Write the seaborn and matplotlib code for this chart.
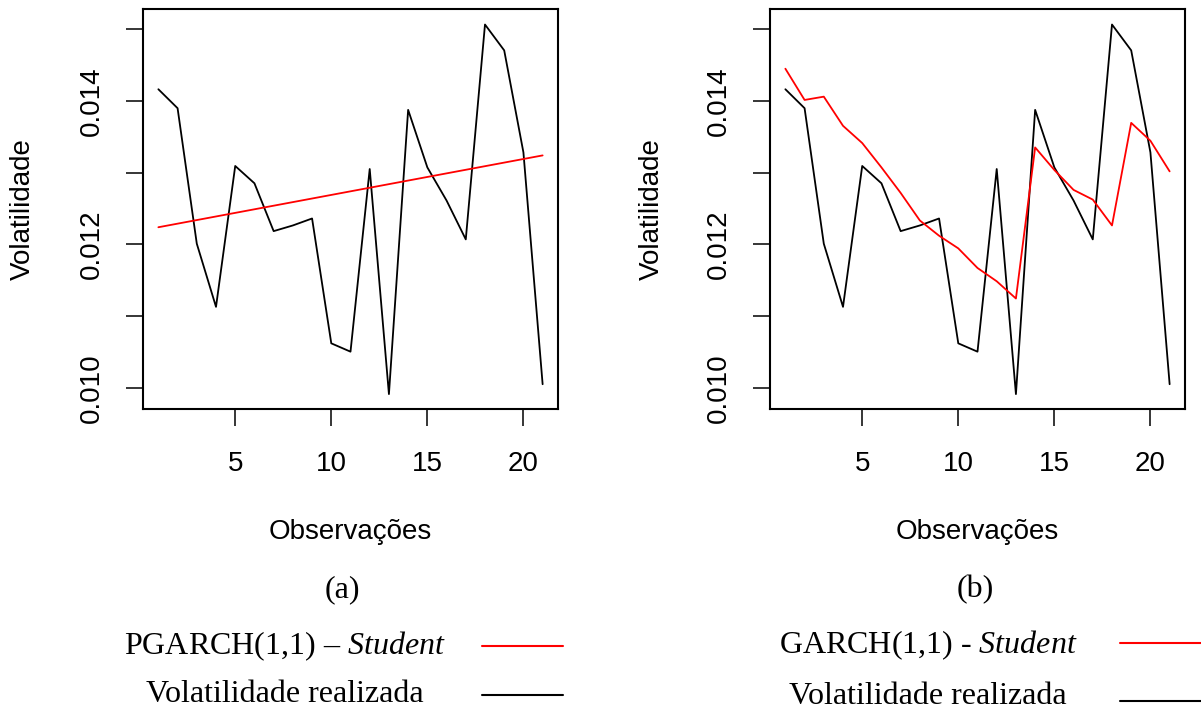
import numpy as np
import pandas as pd
import matplotlib
matplotlib.use("Agg")
import matplotlib.pyplot as plt
from matplotlib.lines import Line2D
import seaborn as sns

# Observation index
obs = list(range(1, 22))

# Realized volatility (same series in both panels)
realized = [0.014161, 0.013897, 0.012011, 0.011132, 0.013093, 0.012852, 0.012186,
            0.012265, 0.012362, 0.010624, 0.010508, 0.013051, 0.009917, 0.013874,
            0.013073, 0.012612, 0.012071, 0.015062, 0.014702, 0.013282, 0.010055]

# PGARCH(1,1) - Student forecast
pgarch = [0.01224, 0.01229, 0.01234, 0.01239, 0.01244, 0.01249, 0.01254,
          0.01259, 0.01264, 0.01269, 0.01274, 0.01279, 0.01284, 0.01289,
          0.01294, 0.01299, 0.01304, 0.01309, 0.01314, 0.01319, 0.01324]

# GARCH(1,1) - Student forecast
garch = [0.014447, 0.014012, 0.014058, 0.013652, 0.013412, 0.013073, 0.012718,
         0.012334, 0.012122, 0.011946, 0.011673, 0.011488, 0.011248, 0.013351,
         0.013037, 0.012760, 0.012625, 0.012265, 0.013693, 0.013444, 0.013018]

x_ticks = [5, 10, 15, 20]
y_ticks = [0.010, 0.011, 0.012, 0.013, 0.014, 0.015]
y_ticklabels = ["0.010", "", "0.012", "", "0.014", ""]

panel_tags = ["(a)", "(b)"]
legend_labels = [
    [r"PGARCH(1,1) – $\mathit{Student}$", "Volatilidade realizada"],
    [r"GARCH(1,1) - $\mathit{Student}$", "Volatilidade realizada"],
]

sns.set_style("white")
plt.rcParams["font.family"] = ["Liberation Sans", "DejaVu Sans"]
plt.rcParams["text.color"] = "black"
plt.rcParams["axes.labelcolor"] = "black"
plt.rcParams["mathtext.fontset"] = "custom"
plt.rcParams["mathtext.rm"] = "Liberation Serif"
plt.rcParams["mathtext.it"] = "Liberation Serif:italic"

W, H = 1201, 715
fig = plt.figure(figsize=(W / 100, H / 100), dpi=100)
fig.patch.set_facecolor("white")


def fx(px):
    return px / W


def fy(py):
    return 1 - py / H


box_top, box_bot = 8.5, 409
panels = [(143, 558), (770, 1185)]
ylabel_x = [23, 652]
tag_x = [342, 975]
models = [pgarch, garch]

for i, ((left, right), model) in enumerate(zip(panels, models)):
    ax = fig.add_axes([fx(left), fy(box_bot), (right - left) / W, (box_bot - box_top) / H])
    df = pd.DataFrame({"obs": obs, "realized": realized, "model": model})
    sns.lineplot(data=df, x="obs", y="realized", ax=ax, color="black", lw=1.3)
    sns.lineplot(data=df, x="obs", y="model", ax=ax, color="#ff0000", lw=1.3)
    ax.set_xlim(0.2, 21.8)
    ax.set_ylim(0.00971, 0.015285)
    ax.set_xticks(x_ticks)
    ax.set_xticklabels([str(t) for t in x_ticks])
    ax.set_yticks(y_ticks)
    ax.set_yticklabels(y_ticklabels, rotation=90, va="center")
    for s in ax.spines.values():
        s.set_visible(True)
        s.set_color("black")
        s.set_linewidth(1.5)
    ax.tick_params(axis="both", direction="out", length=12.5, width=1.1,
                   color="black", labelsize=20, labelcolor="black",
                   bottom=True, left=True, top=False, right=False)
    ax.tick_params(axis="x", pad=18)
    ax.tick_params(axis="y", pad=15)
    ax.set_ylabel("Volatilidade", fontsize=20, color="black")
    ax.yaxis.set_label_coords((ylabel_x[i] - left) / (right - left), 0.5)
    ax.yaxis.label.set_va("center")
    ax.set_xlabel("Observações", fontsize=20, color="black")
    ax.xaxis.set_label_coords(0.5, (box_bot - 532) / (box_bot - box_top))
    ax.xaxis.label.set_va("center")

    fig.text(fx(tag_x[i]), fy(590), panel_tags[i], ha="center", va="center",
             fontsize=23, family="Liberation Serif", color="black")

# Legend rows below each panel
legend_specs = [
    dict(text_x=285, rows=[646, 695], line=(482, 563), line_y=[646, 695]),
    dict(text_x=928, rows=[645, 697], line=(1120, 1201), line_y=[643, 701]),
]
for spec, labels in zip(legend_specs, legend_labels):
    for label, ty, ly, col in zip(labels, spec["rows"], spec["line_y"], ["#ff0000", "black"]):
        fig.text(fx(spec["text_x"]), fy(ty), label, ha="center", va="center",
                 fontsize=23, family="Liberation Serif", color="black")
        fig.add_artist(Line2D([fx(spec["line"][0]), fx(spec["line"][1])], [fy(ly), fy(ly)],
                              color=col, lw=1.5, transform=fig.transFigure))

fig.savefig("out.png", dpi=100, facecolor="white")
